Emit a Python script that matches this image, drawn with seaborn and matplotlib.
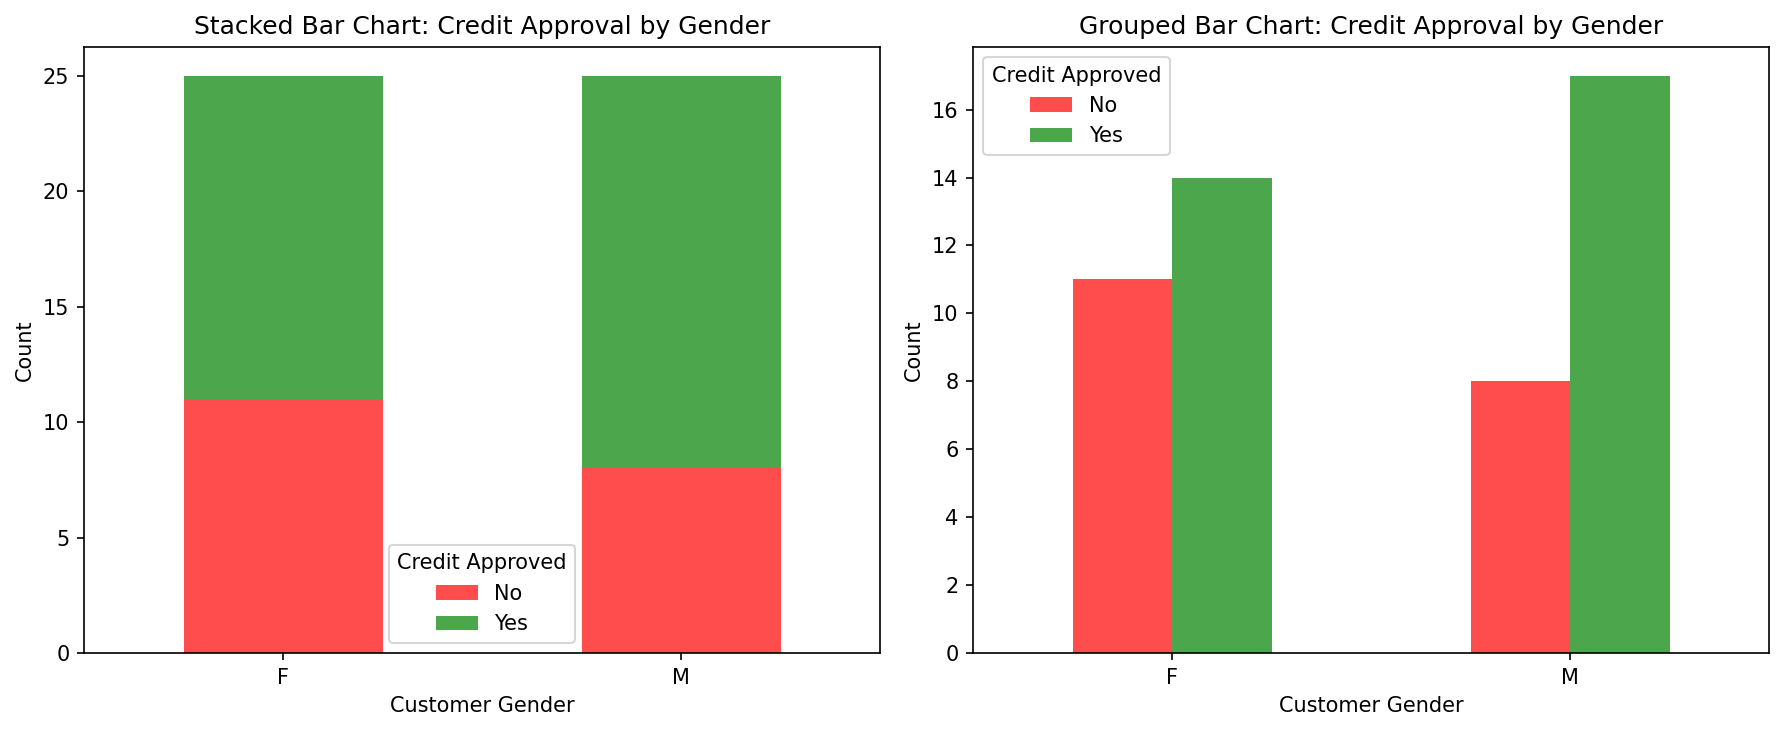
import numpy as np
import pandas as pd
import matplotlib
matplotlib.use("Agg")
import matplotlib.pyplot as plt
import seaborn as sns
from matplotlib.patches import Patch

# counts
genders = ["F", "M"]
approved_labels = ["No", "Yes"]
count_no = [11, 8]
count_yes = [14, 17]

colors = {"No": "red", "Yes": "green"}

df = pd.DataFrame({
    "Customer Gender": genders * 2,
    "Credit Approved": ["No"] * len(genders) + ["Yes"] * len(genders),
    "Count": count_no + count_yes,
})

fig, axes = plt.subplots(1, 2, figsize=(1784 / 150, 731 / 150), dpi=150)
fig.subplots_adjust(left=0.0471, right=0.9916, top=0.936, bottom=0.1067, wspace=0.1168)

handles = [Patch(facecolor=colors[k], alpha=0.7, label=k) for k in approved_labels]

# Stacked bar chart (histplot stacks the first hue level on top, so reverse it)
ax = axes[0]
sns.histplot(data=df, x="Customer Gender", weights="Count", hue="Credit Approved",
             hue_order=approved_labels[::-1], palette=colors, multiple="stack",
             discrete=True, shrink=0.5, alpha=0.7, linewidth=0, ax=ax)
ax.set_xlim(-0.5, len(genders) - 0.5)
ax.set_xticks(range(len(genders)))
ax.set_xticklabels(genders)
ax.legend(handles=handles, title="Credit Approved", loc="lower center")
ax.set_title("Stacked Bar Chart: Credit Approval by Gender")
ax.set_xlabel("Customer Gender")
ax.set_ylabel("Count")

# Grouped bar chart
ax = axes[1]
sns.barplot(data=df, x="Customer Gender", y="Count", hue="Credit Approved",
            hue_order=approved_labels, palette=colors, alpha=0.7, width=0.5,
            saturation=1, errorbar=None, gap=0, ax=ax)
ax.legend(handles=handles, title="Credit Approved", loc="upper left")
ax.set_title("Grouped Bar Chart: Credit Approval by Gender")
ax.set_xlabel("Customer Gender")
ax.set_ylabel("Count")

plt.savefig("out.png", dpi=150)
plt.close()
